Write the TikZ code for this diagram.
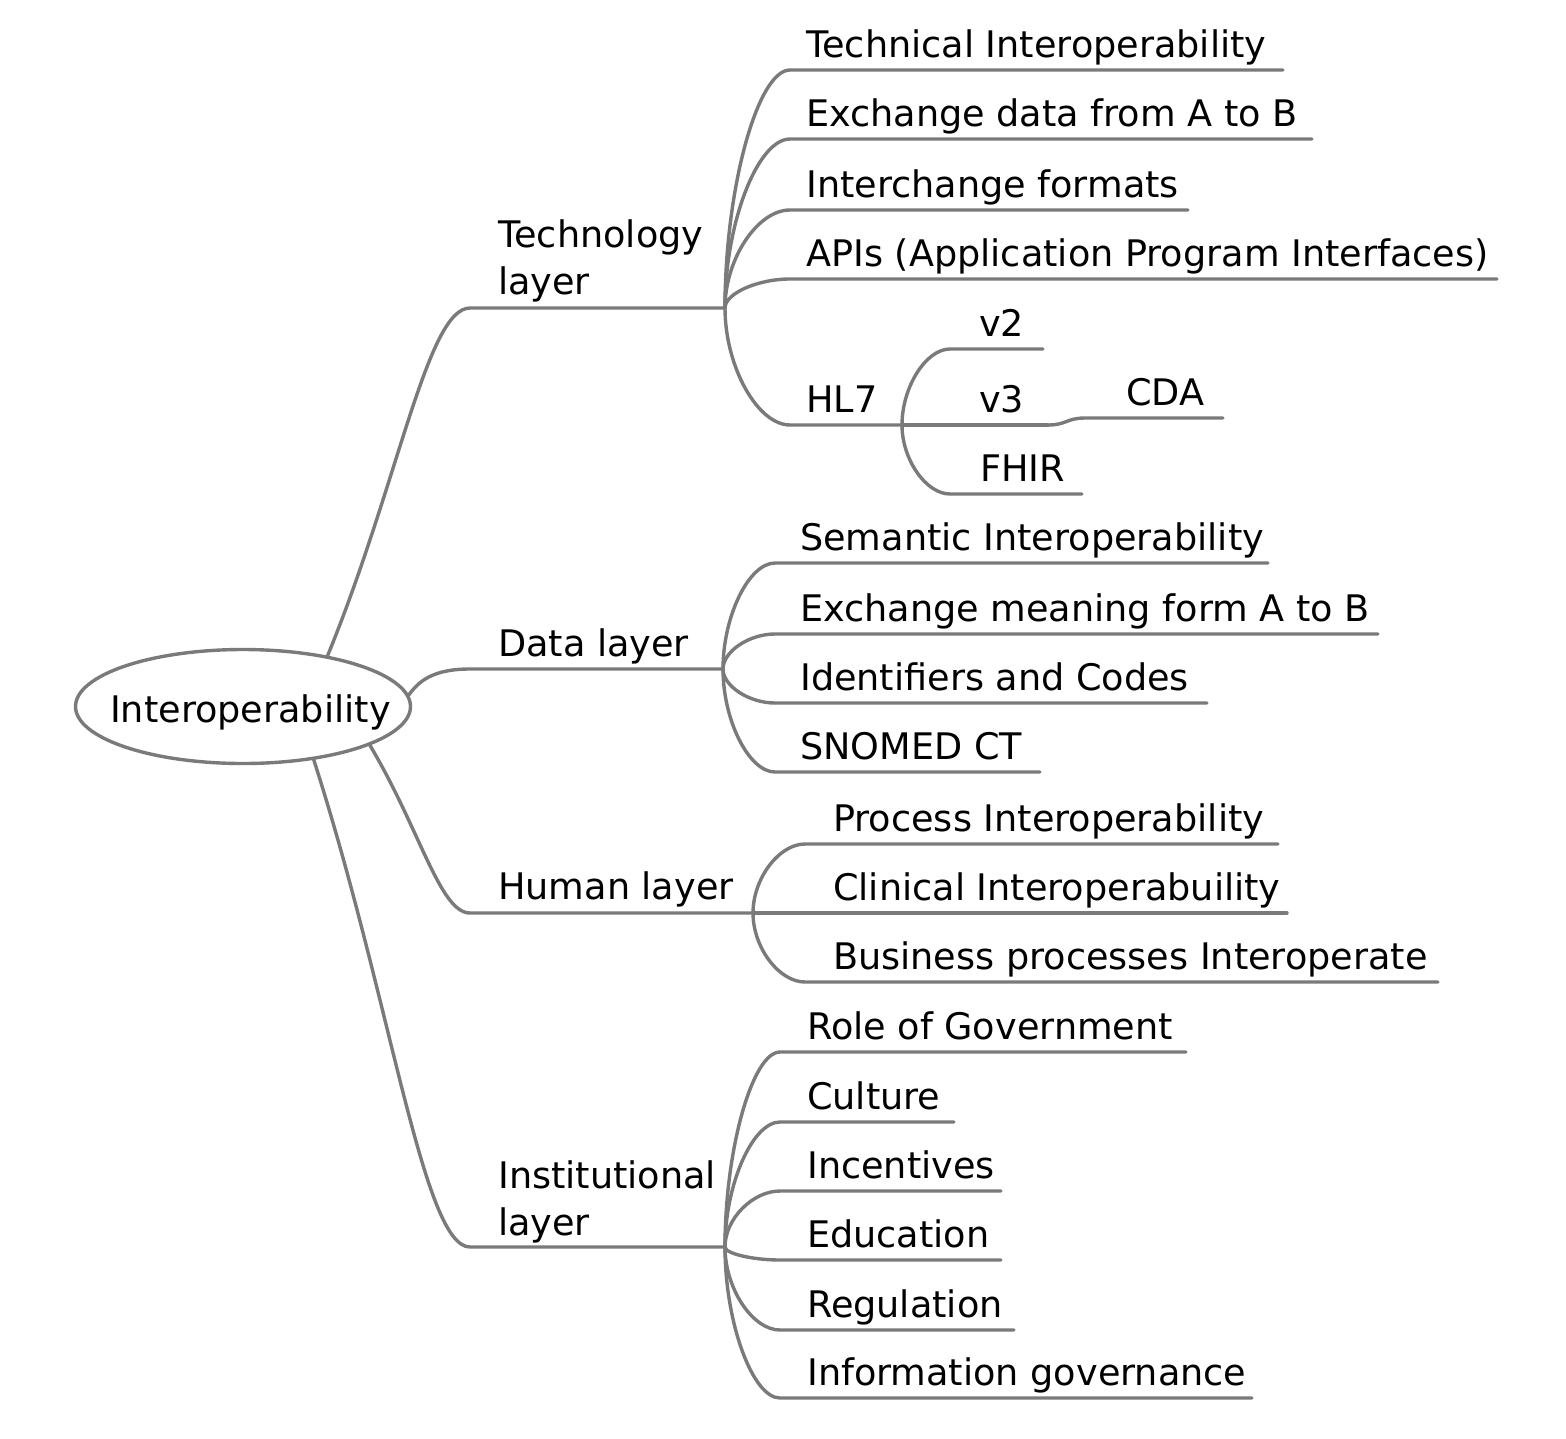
\documentclass[tikz,border=0pt]{standalone}
\usepackage{fontspec}
\setmainfont{DejaVu Sans}
\usetikzlibrary{calc,shapes.geometric}
\definecolor{linkgray}{RGB}{122,122,122}
\tikzset{
  link/.style={draw=linkgray, line width=3.4pt, line cap=round, line join=round},
  lbl/.style={anchor=base west, inner sep=0pt, font=\fontsize{36.6}{47}\selectfont, text=black, align=left},
  rootnode/.style={ellipse, draw=linkgray, line width=3.4pt, minimum width=335pt, minimum height=114pt, inner sep=0pt},
}
% #1 parent coordinate, #2 name, #3 start x, #4 y, #5 end x, #6 text x, #7 text
\newcommand\mmleaf[7]{%
  \coordinate (#2S) at (#3,#4);
  \coordinate (#2E) at (#5,#4);
  \node[lbl] (#2) at (#6,#4-13) {#7};
  \draw[link] (#1) .. controls ($(#1 |- #2S)!0.5!(#1)$) and ($(#2S)!0.5!(#1 |- #2S)$) .. (#2S) -- (#2E);
}
% #1 ellipse anchor, #2 name, #3 y, #4 end x
\newcommand\mmmain[4]{%
  \coordinate (#2S) at (470,#3);
  \coordinate (#2E) at (#4,#3);
  \draw[link] (#1) .. controls ($(#1)!0.5!(#2S)$) and ($(#2S)!0.3!(#1 |- #2S)$) .. (#2S) -- (#2E);
}
\begin{document}
\begin{tikzpicture}[x=1pt,y=-1pt]
\useasboundingbox (0,0) rectangle (1566,1438);
\node[rootnode] (root) at (243,706.5) {};
\node[lbl] (rootlbl) at (110,722) {Interoperability};

% main branches
\mmmain{root.31}{tech}{308}{725}
\coordinate (dataS) at (470,669);
\coordinate (dataE) at (723,669);
\draw[link] (root.4.6) .. controls ($(root.4.6)+(10,-14)$) and ($(dataS)!0.6!(root.4.6 |- dataS)$) .. (dataS) -- (dataE);
\mmmain{root.-17.4}{hum}{913}{753}
\mmmain{root.-37.3}{inst}{1247}{725}
\node[lbl] (techlbl) at (498,294) {Technology\\layer};
\node[lbl] (datalbl) at (498,656) {Data layer};
\node[lbl] (humlbl) at (498,899) {Human layer};
\node[lbl] (instlbl) at (498,1235) {Institutional\\layer};

% technology layer
\mmleaf{techE}{tI}{790}{70}{1283}{806}{Technical Interoperability}
\mmleaf{techE}{tEx}{790}{139}{1312}{806}{Exchange data from A to B}
\mmleaf{techE}{tIf}{790}{210}{1188}{806}{Interchange formats}
\mmleaf{techE}{tApi}{790}{279}{1497}{806}{APIs (Application Program Interfaces)}
\mmleaf{techE}{hl}{790}{425}{902}{806}{HL7}
% HL7
\mmleaf{hlE}{vtwo}{950}{349}{1043}{979}{v2}
\mmleaf{hlE}{vthree}{950}{425}{1048}{979}{v3}
\mmleaf{hlE}{fhir}{950}{494}{1082}{980}{FHIR}
\coordinate (cdaS) at (1085,418);
\coordinate (cdaE) at (1223,418);
\node[lbl] (cda) at (1126,405) {CDA};
\draw[link] (vthreeE) .. controls ($(vthreeE)!0.5!(vthreeE -| cdaS)$) and ($(cdaS)!0.5!(vthreeE |- cdaS)$) .. (cdaS) -- (cdaE);

% data layer
\mmleaf{dataE}{dSem}{775}{563}{1268}{800}{Semantic Interoperability}
\mmleaf{dataE}{dEx}{775}{634}{1378}{800}{Exchange meaning form A to B}
\mmleaf{dataE}{dId}{775}{703}{1207}{800}{Identifiers and Codes}
\mmleaf{dataE}{dSn}{775}{772}{1040}{800}{SNOMED CT}

% human layer
\mmleaf{humE}{hPr}{805}{844}{1278}{833}{Process Interoperability}
\mmleaf{humE}{hCl}{805}{913}{1287}{833}{Clinical Interoperabuility}
\mmleaf{humE}{hBu}{805}{982}{1438}{833}{Business processes Interoperate}

% institutional layer
\mmleaf{instE}{iRo}{780}{1052}{1186}{807}{Role of Government}
\mmleaf{instE}{iCu}{780}{1122}{954}{807}{Culture}
\mmleaf{instE}{iIn}{780}{1191}{1001}{807}{Incentives}
\mmleaf{instE}{iEd}{780}{1260}{1001}{807}{Education}
\mmleaf{instE}{iRe}{780}{1330}{1014}{807}{Regulation}
\mmleaf{instE}{iIg}{780}{1398}{1252}{807}{Information governance}
\end{tikzpicture}
\end{document}
